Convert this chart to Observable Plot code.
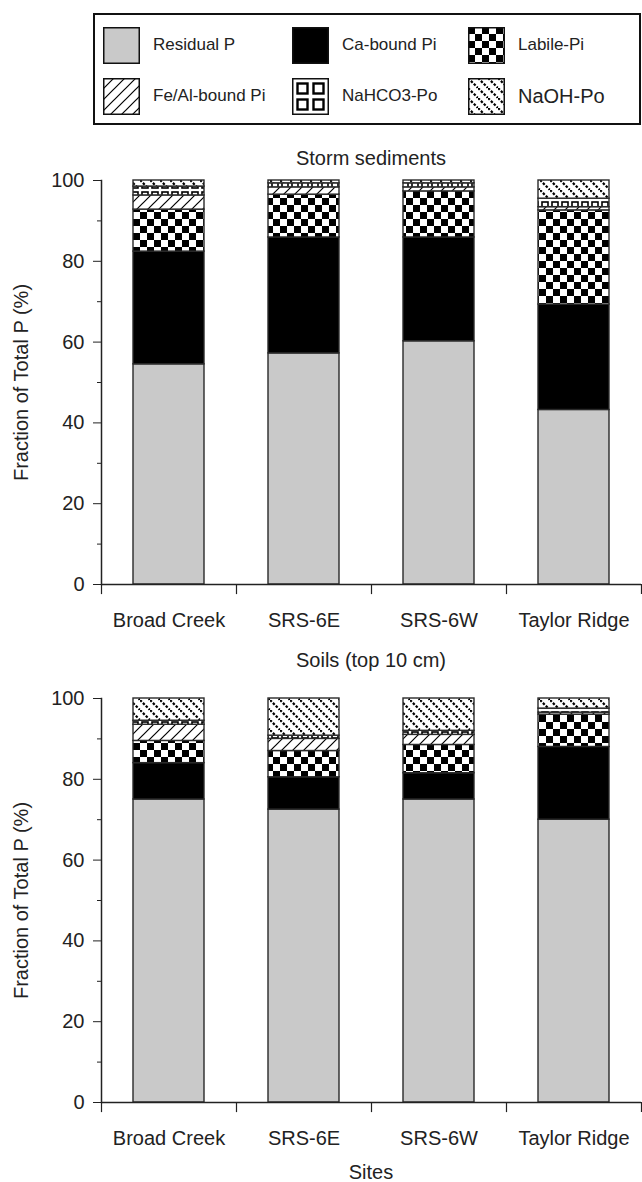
<!DOCTYPE html>
<html><head><meta charset="utf-8">
<script src="https://cdn.jsdelivr.net/npm/d3@7"></script>
<script src="https://cdn.jsdelivr.net/npm/@observablehq/plot@0.6"></script>
<style>
body{margin:0;background:#fff;font-family:"Liberation Sans",Arial,sans-serif;color:#222;}
#root{position:relative;width:642px;height:1182px;overflow:hidden;background:#fff;}
.title{position:absolute;left:101px;width:540px;text-align:center;font-size:20px;line-height:20px;}
#legend{position:absolute;left:93px;top:13px;width:544px;height:108px;border:2px solid #111;}
.item{position:absolute;display:flex;align-items:center;font-size:17px;height:36px;white-space:nowrap;}
.item svg{margin-right:13px;flex:none;}
.chart{position:absolute;left:0;}
</style></head>
<body><div id="root">
<svg width="0" height="0" style="position:absolute">
  <defs>
    <pattern id="pLabile" patternUnits="userSpaceOnUse" width="14" height="14">
      <rect width="14" height="14" fill="#fff"/>
      <rect x="0" y="0" width="7" height="7" fill="#000"/>
      <rect x="7" y="7" width="7" height="7" fill="#000"/>
    </pattern>
    <pattern id="pFeAl" patternUnits="userSpaceOnUse" width="11" height="11">
      <rect width="11" height="11" fill="#fff"/>
      <path d="M0,11 L11,0 M-2,2 L2,-2 M9,13 L13,9" stroke="#000" stroke-width="1.2"/>
    </pattern>
    <pattern id="pNaHCO3" patternUnits="userSpaceOnUse" width="10" height="10">
      <rect width="10" height="10" fill="#fff"/>
      <rect x="2" y="2" width="6" height="6" fill="#fff" stroke="#000" stroke-width="1.6"/>
    </pattern>
    <pattern id="pNaHCO3L" patternUnits="userSpaceOnUse" width="16" height="16" x="3" y="3">
      <rect width="16" height="16" fill="#fff"/>
      <rect x="2.5" y="2.5" width="10" height="10" fill="#fff" stroke="#000" stroke-width="2.4"/>
    </pattern>
    <pattern id="pNaOH" patternUnits="userSpaceOnUse" width="10" height="10">
      <rect width="10" height="10" fill="#fff"/>
      <path d="M0,0 L10,10 M-5,5 L5,15 M5,-5 L15,5" stroke="#000" stroke-width="2.2" stroke-dasharray="2.5 1.6"/>
    </pattern>
  </defs>
</svg>
<div id="legend"></div>
<div class="title" style="top:148px">Storm sediments</div>
<div class="title" style="top:650px">Soils (top 10 cm)</div>
<div class="title" style="top:1162px">Sites</div>
</div>
<script>
const sites = ["Broad Creek", "SRS-6E", "SRS-6W", "Taylor Ridge"];
const fractions = ["Residual P", "Ca-bound Pi", "Labile-Pi", "Fe/Al-bound Pi", "NaHCO3-Po", "NaOH-Po"];
const fills = ["#c9c9c9", "#000000", "url(#pLabile)", "url(#pFeAl)", "url(#pNaHCO3)", "url(#pNaOH)"];
const legendFills = ["#c9c9c9", "#000000", "url(#pLabile)", "url(#pFeAl)", "url(#pNaHCO3L)", "url(#pNaOH)"];

// Storm sediments (% of total P), by site
const stormResidual = [54.5, 57.2, 60.2, 43.2];
const stormCa       = [27.9, 28.7, 25.7, 26.1];
const stormLabile   = [10.4, 10.6, 11.4, 23.3];
const stormFeAl     = [3.5, 1.8, 1.0, 0.8];
const stormNaHCO3   = [2.2, 1.0, 1.0, 2.1];
const stormNaOH     = [1.5, 0.7, 0.7, 4.5];

// Soils (top 10 cm)
const soilResidual = [75.0, 72.5, 75.0, 70.0];
const soilCa       = [9.0, 8.0, 6.5, 18.0];
const soilLabile   = [5.5, 6.5, 7.0, 8.0];
const soilFeAl     = [4.0, 3.0, 2.5, 0.5];
const soilNaHCO3   = [1.0, 0.8, 1.0, 1.0];
const soilNaOH     = [5.5, 9.2, 8.0, 2.5];

const yTicks = [0, 20, 40, 60, 80, 100];
const yMinor = [10, 30, 50, 70, 90];

// legend
const root = document.getElementById("root");
const legPos = [[103, 27], [292, 27], [468, 27], [103, 78], [292, 78], [468, 78]];
fractions.forEach((f, i) => {
  const d = document.createElement("div");
  d.className = "item";
  d.style.left = legPos[i][0] + "px";
  d.style.top = legPos[i][1] + "px";
  if (f === "NaOH-Po") d.style.fontSize = "20px";
  d.innerHTML = `<svg width="37" height="37"><rect x="0.75" y="0.75" width="35.5" height="35.5" fill="${legendFills[i]}" stroke="#111" stroke-width="1.5"/></svg><span>${f}</span>`;
  root.appendChild(d);
});

function panel(cols, top, mt, mb) {
  const data = [];
  sites.forEach((s, i) => fractions.forEach((f, j) => data.push({site: s, fraction: f, value: cols[j][i]})));
  const chart = Plot.plot({
    width: 642, height: mt + 404 + mb,
    marginTop: mt, marginBottom: mb, marginLeft: 101, marginRight: 1,
    style: {fontFamily: '"Liberation Sans", Arial, sans-serif', fontSize: "20px", color: "#222", background: "transparent", overflow: "visible"},
    x: {domain: sites, paddingInner: 0.474, paddingOuter: 0.237, align: 0.5, label: null},
    y: {domain: [0, 100], label: null},
    color: {domain: fractions, range: fills},
    marks: [
      Plot.barY(data, Plot.stackY({x: "site", y: "value", fill: "fraction", order: fractions, stroke: "#2a2a2a", strokeWidth: 1.4})),
      Plot.axisY({ticks: yMinor, tickSize: 4, tickFormat: () => "", label: null}),
      Plot.axisY({ticks: yTicks, tickSize: 8, tickPadding: 9, label: "Fraction of Total P (%)", labelAnchor: "center", labelOffset: 88, labelArrow: "none"}),
      Plot.axisX({tickSize: 0, tickPadding: 28, label: null}),
      Plot.ruleX(sites, {x: d => d, dx: -67.5, y1: 0, y2: -2.5, stroke: "#222", strokeWidth: 1.2}),
      Plot.ruleX(sites.slice(-1), {x: d => d, dx: 67.5, y1: 0, y2: -2.5, stroke: "#222", strokeWidth: 1.2}),
      Plot.ruleY([0], {stroke: "#222", strokeWidth: 1.5}),
      Plot.frame({anchor: "left", stroke: "#222", strokeWidth: 1.5})
    ]
  });
  chart.classList.add("chart");
  chart.style.position = "absolute";
  chart.style.top = top + "px";
  chart.style.left = "0px";
  root.appendChild(chart);
}

panel([stormResidual, stormCa, stormLabile, stormFeAl, stormNaHCO3, stormNaOH], 170, 10, 60);
panel([soilResidual, soilCa, soilLabile, soilFeAl, soilNaHCO3, soilNaOH], 680, 18, 48);
</script>
</body></html>
